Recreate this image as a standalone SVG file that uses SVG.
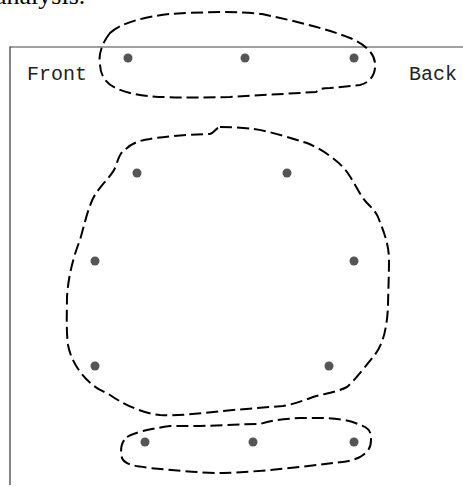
<svg xmlns="http://www.w3.org/2000/svg" width="463" height="487" viewBox="0 0 463 487">
<style>
.frame-top{stroke:#808080;stroke-width:1.5;fill:none}
.frame-left{stroke:#333;stroke-width:1.2;fill:none}
.loop{fill:none;stroke:#000;stroke-width:2;stroke-dasharray:12 5;stroke-linejoin:round}
.dot{fill:#555}
.lbl{font-family:"Liberation Mono","Courier New",monospace;font-size:20px;fill:#222}
.cap{font-family:"Liberation Serif","Times New Roman",serif;font-size:26px;fill:#000}
</style>
<rect width="463" height="487" fill="#fff"/>
<text class="cap" x="-5" y="3.5">analysis.</text>
<g id="frame">
<line class="frame-top" x1="10" y1="47" x2="463" y2="47"/>
<line class="frame-left" x1="10" y1="46.5" x2="10" y2="485"/>
</g>
<g id="front"><text class="lbl" x="27" y="80">Front</text></g>
<g id="back"><text class="lbl" x="409" y="80">Back</text></g>
<g id="connectors">
<path id="loop-top" class="loop" d="M 110,33 C 102,43 98,55 100,65 C 101,80 110,88 130,93 C 150,98 180,98 230,97 L 316,92 C 320,89 322,88 330,88 L 360,85 C 372,82 376,72 375,63 C 374,52 364,44 350,38 C 330,30 300,22 262,14 C 240,11 200,12 170,14 C 145,17 122,22 110,33 Z"/>
<path id="loop-mid" class="loop" d="M 220,127 C 230,127 245,128 253,129 C 270,131 290,138 307,143 C 322,149 340,162 347,172 C 355,183 360,196 367,203 C 372,208 376,212 378,217 C 384,232 389,245 389,260 C 389,280 388,295 388,307 C 387,325 384,345 373,357 C 365,367 355,380 347,387 C 335,393 322,394 313,397 C 300,402 290,405 283,406 L 233,410 C 205,413 180,416 160,415 C 140,413 120,402 110,395 C 103,391 98,389 97,388 C 85,380 72,365 68,345 C 66,330 67,310 67,297 C 68,280 72,260 80,240 C 85,222 90,200 97,192 C 103,183 112,175 115,168 C 118,160 120,152 125,150 C 130,144 140,140 150,139 C 160,137 180,135 210,134 C 214,133 216,128 220,127 Z"/>
<path id="loop-bot" class="loop" d="M 127,437 C 135,432 150,429 170,426 L 200,426 C 230,425 250,424 260,424 C 270,421 280,419 300,418 L 320,418 C 335,418 350,420 360,425 C 370,428 371,432 371,440 C 371,448 368,452 360,457 C 350,462 340,462 333,463 C 310,466 260,472 223,473 C 200,473 170,470 150,468 C 135,466 125,465 122,458 C 120,450 121,442 127,437 Z"/>
</g>
<g id="n1"><circle class="dot" cx="128" cy="58" r="4.5"/></g>
<g id="n2"><circle class="dot" cx="245" cy="58" r="4.5"/></g>
<g id="n3"><circle class="dot" cx="354" cy="58" r="4.5"/></g>
<g id="n4"><circle class="dot" cx="137" cy="173" r="4.5"/></g>
<g id="n5"><circle class="dot" cx="287" cy="173" r="4.5"/></g>
<g id="n6"><circle class="dot" cx="95" cy="261" r="4.5"/></g>
<g id="n7"><circle class="dot" cx="354" cy="261" r="4.5"/></g>
<g id="n8"><circle class="dot" cx="95" cy="366" r="4.5"/></g>
<g id="n9"><circle class="dot" cx="329" cy="366" r="4.5"/></g>
<g id="n10"><circle class="dot" cx="145" cy="442" r="4.5"/></g>
<g id="n11"><circle class="dot" cx="253" cy="442" r="4.5"/></g>
<g id="n12"><circle class="dot" cx="354" cy="442" r="4.5"/></g>
</svg>
